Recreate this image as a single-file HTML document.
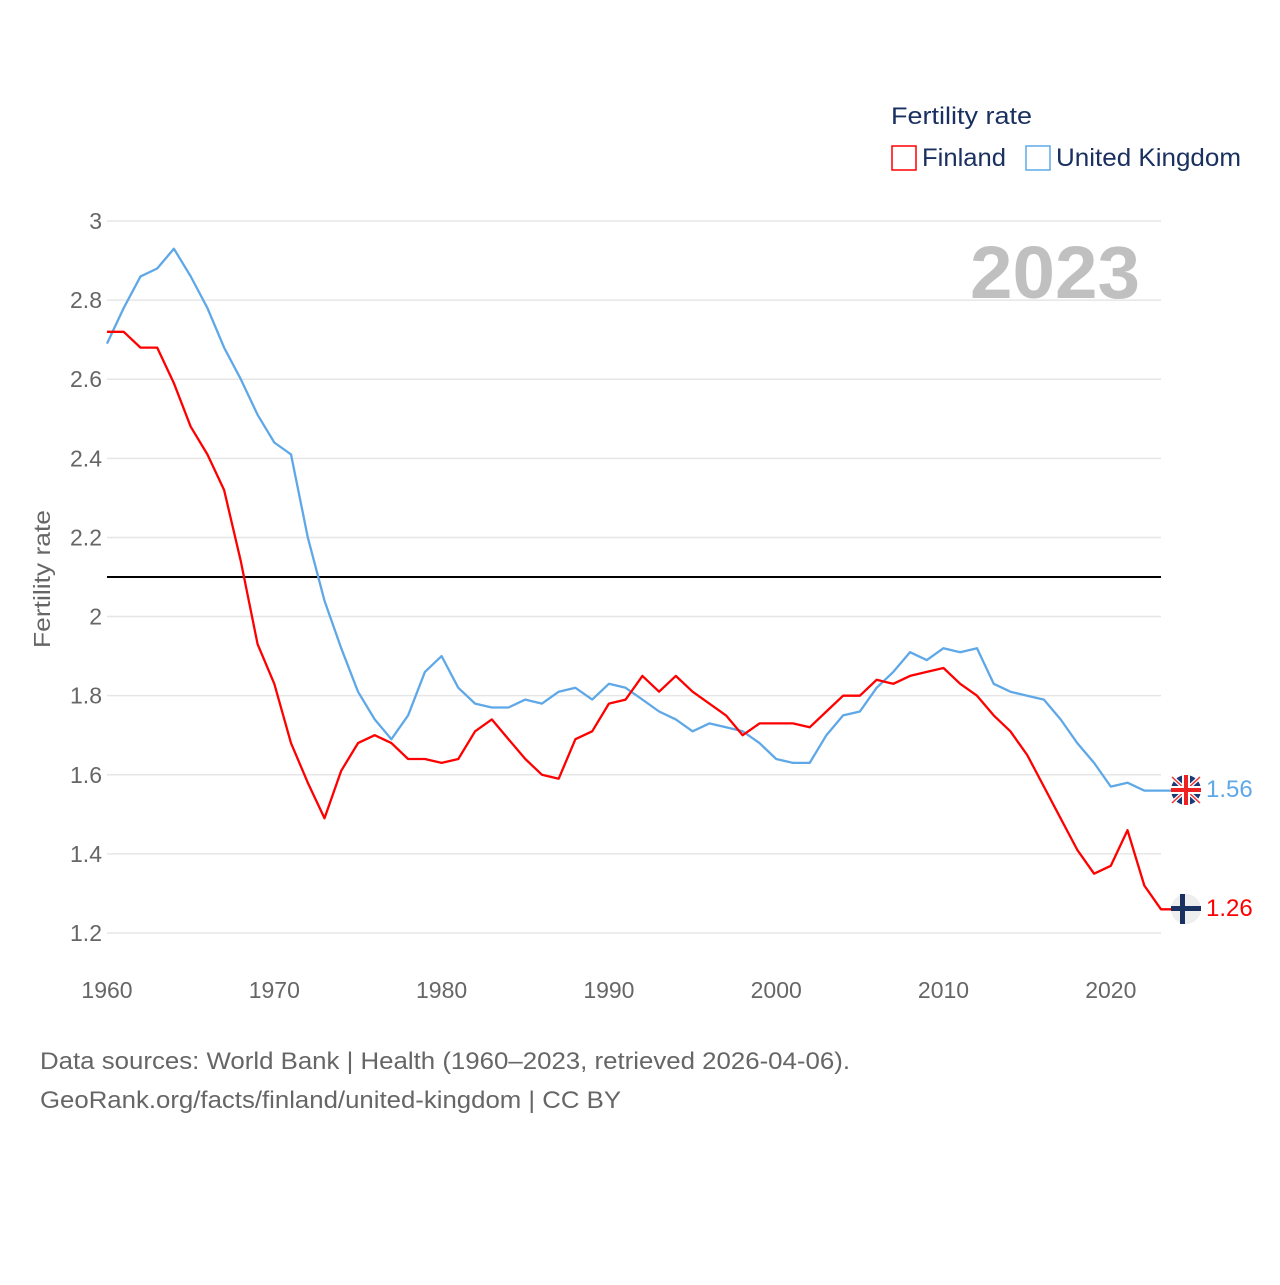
<!DOCTYPE html>
<html><head><meta charset="utf-8"><style>
body{margin:0;background:#fff;font-family:"Liberation Sans",sans-serif}
svg text{font-family:"Liberation Sans",sans-serif}
</style></head><body>
<svg id="chart" width="1280" height="1280" viewBox="0 0 1280 1280" xmlns="http://www.w3.org/2000/svg">
<g id="grid"></g>
<g id="yticks"></g>
<g id="xticks"></g>
<text x="1140" y="298" text-anchor="end" font-size="74" font-weight="bold" fill="#c0c0c0" textLength="170" lengthAdjust="spacingAndGlyphs">2023</text>
<text transform="translate(50,579) rotate(-90)" text-anchor="middle" font-size="23" fill="#666" textLength="138" lengthAdjust="spacingAndGlyphs">Fertility rate</text>
<line id="refline" stroke="#000" stroke-width="2"/>
<g id="series"></g>
<g>
<text x="891" y="124" font-size="24" fill="#1a3060" textLength="141" lengthAdjust="spacingAndGlyphs">Fertility rate</text>
<rect x="892" y="146" width="24" height="24" fill="none" stroke="#f00" stroke-width="1.5"/>
<text x="922" y="166" font-size="25" fill="#1a3060" textLength="84" lengthAdjust="spacingAndGlyphs">Finland</text>
<rect x="1026" y="146" width="24" height="24" fill="none" stroke="#5fa8e8" stroke-width="1.5"/>
<text x="1056" y="166" font-size="25" fill="#1a3060" textLength="185" lengthAdjust="spacingAndGlyphs">United Kingdom</text>
</g>
<g>
<circle cx="1186" cy="790" r="15" fill="#1a3a78"/>
<path d="M1172 777L1200 803M1200 777L1172 803" stroke="#fff" stroke-width="4"/>
<path d="M1172 777L1200 803M1200 777L1172 803" stroke="#e33" stroke-width="1.5"/>
<rect x="1171" y="786" width="30" height="8" fill="#fff"/><rect x="1182" y="775" width="8" height="30" fill="#fff"/>
<rect x="1171" y="788" width="30" height="4" fill="#e22"/><rect x="1184" y="775" width="4" height="30" fill="#e22"/>
<text x="1206" y="797" font-size="24" fill="#5fa8e8">1.56</text>
</g>
<g>
<circle cx="1186" cy="909" r="15" fill="#eee"/>
<rect x="1171" y="906" width="30" height="5" fill="#1a3060"/><rect x="1180" y="894" width="5" height="30" fill="#1a3060"/>
<text x="1206" y="916" font-size="24" fill="#f00">1.26</text>
</g>
<text x="40" y="1069" font-size="24" fill="#666" textLength="810" lengthAdjust="spacingAndGlyphs">Data sources: World Bank | Health (1960–2023, retrieved 2026-04-06).</text>
<text x="40" y="1108" font-size="24" fill="#666" textLength="581" lengthAdjust="spacingAndGlyphs">GeoRank.org/facts/finland/united-kingdom | CC BY</text>
</svg>
<script>
const years=[];for(let y=1960;y<=2023;y++)years.push(y);
const finland=[2.72,2.72,2.68,2.68,2.59,2.48,2.41,2.32,2.14,1.93,1.83,1.68,1.58,1.49,1.61,1.68,1.70,1.68,1.64,1.64,1.63,1.64,1.71,1.74,1.69,1.64,1.60,1.59,1.69,1.71,1.78,1.79,1.85,1.81,1.85,1.81,1.78,1.75,1.70,1.73,1.73,1.73,1.72,1.76,1.80,1.80,1.84,1.83,1.85,1.86,1.87,1.83,1.80,1.75,1.71,1.65,1.57,1.49,1.41,1.35,1.37,1.46,1.32,1.26];
const uk=[2.69,2.78,2.86,2.88,2.93,2.86,2.78,2.68,2.60,2.51,2.44,2.41,2.20,2.04,1.92,1.81,1.74,1.69,1.75,1.86,1.90,1.82,1.78,1.77,1.77,1.79,1.78,1.81,1.82,1.79,1.83,1.82,1.79,1.76,1.74,1.71,1.73,1.72,1.71,1.68,1.64,1.63,1.63,1.70,1.75,1.76,1.82,1.86,1.91,1.89,1.92,1.91,1.92,1.83,1.81,1.80,1.79,1.74,1.68,1.63,1.57,1.58,1.56,1.56];
const yTicks=[1.2,1.4,1.6,1.8,2,2.2,2.4,2.6,2.8,3];
const xTicks=[1960,1970,1980,1990,2000,2010,2020];
const replacement=[2.1];
const NS="http://www.w3.org/2000/svg";
const X=y=>107+(y-1960)*(1161-107)/63;
const Y=v=>221+(3-v)*(933-221)/1.8;
function mk(t,a,p){const e=document.createElementNS(NS,t);for(const k in a)e.setAttribute(k,a[k]);p.appendChild(e);return e;}
const grid=document.getElementById('grid'),yt=document.getElementById('yticks'),xt=document.getElementById('xticks');
yTicks.forEach(v=>{
 const l=mk('line',{x1:107,x2:1161,y1:Y(v),y2:Y(v),stroke:'#e6e6e6','stroke-width':1.5},grid);
 
 
 const t=mk('text',{x:102,y:Y(v)+8,'text-anchor':'end','font-size':23,fill:'#666'},yt);
 t.textContent=String(v);
 
 
});
xTicks.forEach(v=>{
 const t=mk('text',{x:X(v),y:998,'text-anchor':'middle','font-size':23,fill:'#666'},xt);
 t.textContent=String(v);
 
 
});
const rl=document.getElementById('refline');
rl.setAttribute('x1',107);rl.setAttribute('x2',1161);rl.setAttribute('y1',Y(replacement[0]));rl.setAttribute('y2',Y(replacement[0]));
const sg=document.getElementById('series');
function line(d,c,name){
 const pts=d.map((v,i)=>X(years[i]).toFixed(1)+','+Y(v).toFixed(1));
 pts.push((X(2023)+10)+','+Y(d[d.length-1]).toFixed(1));
 const p=mk('polyline',{points:pts.join(' '),fill:'none',stroke:c,'stroke-width':2.3,'stroke-linejoin':'round'},sg);
 
 
}
line(uk,'#5fa8e8','uk-line');
line(finland,'#f00','finland-line');
</script>
</body></html>
